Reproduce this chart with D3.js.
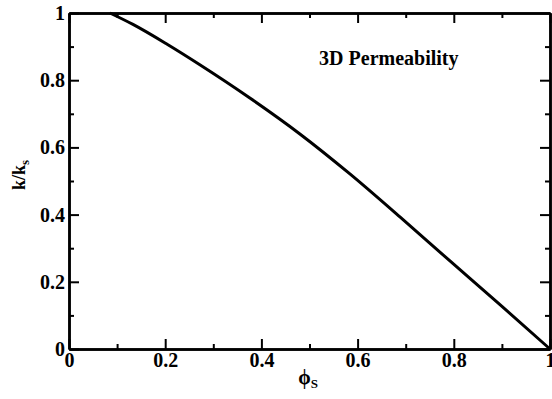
<!DOCTYPE html>
<html>
<head>
<meta charset="utf-8">
<script src="https://cdn.jsdelivr.net/npm/d3@7"></script>
<style>
  body { margin: 0; background: #fff; }
  text { font-family: "Liberation Serif", "Times New Roman", serif; font-weight: bold; fill: #000; }
</style>
</head>
<body>
<div id="chart"></div>
<script>
// solid fraction vs relative permeability
var phiValues = [0.085, 0.133, 0.204, 0.272, 0.376, 0.48, 0.584, 0.688, 0.792, 0.896, 1.0];
var kValues = [1.0, 0.966, 0.907, 0.846, 0.747, 0.64, 0.521, 0.393, 0.262, 0.132, 0.0];
var xMajor = [0, 0.2, 0.4, 0.6, 0.8, 1];
var xMinor = [0.1, 0.3, 0.5, 0.7, 0.9];
var yMajor = [0, 0.2, 0.4, 0.6, 0.8, 1];
var yMinor = [0.1, 0.3, 0.5, 0.7, 0.9];
var titleText = '3D Permeability';

var width = 552, height = 399;
var margin = {top: 13, right: 2, bottom: 50, left: 69};
var w = width - margin.left - margin.right;
var h = height - margin.top - margin.bottom;

var svg = d3.select('#chart').append('svg')
  .attr('width', width)
  .attr('height', height);

var chart = svg.append('g')
  .attr('transform', `translate(${margin.left},${margin.top})`);

var x = d3.scaleLinear().domain([0, 1]).range([0, w]);
var y = d3.scaleLinear().domain([0, 1]).range([h, 0]);

function fmt(d) { return d === 0 ? '0' : d === 1 ? '1' : d3.format('.1f')(d); }

function styleAxis(g) {
  g.selectAll('.domain').attr('stroke', '#000').attr('stroke-width', 2.5);
  g.selectAll('.tick line').attr('stroke', '#000').attr('stroke-width', 2);
  g.selectAll('.tick text').style('font-size', '20px').style('font-family', '"Liberation Serif", serif').style('font-weight', 'bold');
}

// bottom
chart.append('g').attr('transform', `translate(0,${h})`)
  .call(d3.axisBottom(x).tickValues(xMajor).tickSize(-10).tickSizeOuter(0).tickPadding(4).tickFormat(fmt))
  .call(styleAxis);
chart.append('g').attr('transform', `translate(0,${h})`)
  .call(d3.axisBottom(x).tickValues(xMinor).tickSize(-5).tickSizeOuter(0).tickFormat(''))
  .call(styleAxis);
// top
chart.append('g')
  .call(d3.axisTop(x).tickValues(xMajor).tickSize(-10).tickSizeOuter(0).tickFormat(''))
  .call(styleAxis);
chart.append('g')
  .call(d3.axisTop(x).tickValues(xMinor).tickSize(-5).tickSizeOuter(0).tickFormat(''))
  .call(styleAxis);
// left
chart.append('g')
  .call(d3.axisLeft(y).tickValues(yMajor).tickSize(-10).tickSizeOuter(0).tickPadding(4).tickFormat(fmt))
  .call(styleAxis);
chart.append('g')
  .call(d3.axisLeft(y).tickValues(yMinor).tickSize(-5).tickSizeOuter(0).tickFormat(''))
  .call(styleAxis);
// right
chart.append('g').attr('transform', `translate(${w},0)`)
  .call(d3.axisRight(y).tickValues(yMajor).tickSize(-10).tickSizeOuter(0).tickFormat(''))
  .call(styleAxis);
chart.append('g').attr('transform', `translate(${w},0)`)
  .call(d3.axisRight(y).tickValues(yMinor).tickSize(-5).tickSizeOuter(0).tickFormat(''))
  .call(styleAxis);

// the curve
var pts = phiValues.map((p, i) => [p, kValues[i]]);
chart.append('path')
  .datum(pts)
  .attr('fill', 'none')
  .attr('stroke', '#000')
  .attr('stroke-width', 3)
  .attr('d', d3.line().x(d => x(d[0])).y(d => y(d[1])).curve(d3.curveMonotoneX));

// label inside plot
chart.append('text')
  .attr('x', x(0.52))
  .attr('y', y(0.845))
  .style('font-size', '20px')
  .text(titleText);

// axis titles
var xt = svg.append('text')
  .attr('x', 308)
  .attr('y', 384)
  .style('font-size', '20px')
  .style('text-anchor', 'middle');
xt.append('tspan').text('ϕ');
xt.append('tspan').attr('dy', 4).style('font-size', '13px').text('S');

var yt = svg.append('text')
  .attr('transform', 'translate(25,175) rotate(-90)')
  .style('font-size', '18px')
  .style('text-anchor', 'middle');
yt.append('tspan').text('k/k');
yt.append('tspan').attr('dy', 4).style('font-size', '13px').text('s');
</script>
</body>
</html>
